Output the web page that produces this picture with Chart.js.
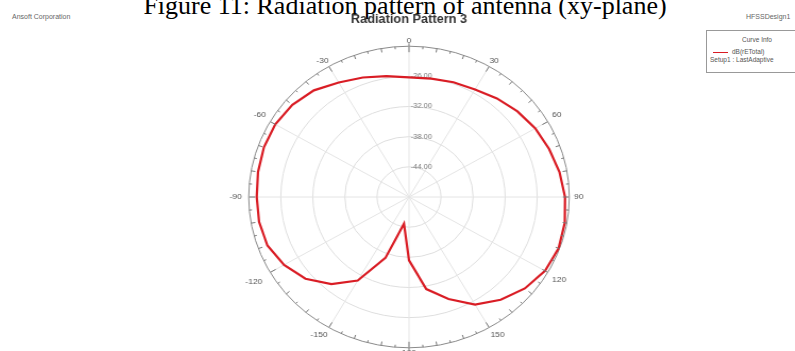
<!DOCTYPE html>
<html>
<head>
<meta charset="utf-8">
<script src="https://cdn.jsdelivr.net/npm/chart.js@4.4.1/dist/chart.umd.min.js"></script>
<style>
  html, body {
    margin: 0;
    padding: 0;
    width: 795px;
    height: 351px;
    overflow: hidden;
    background: #fff;
    position: relative;
    font-family: "Liberation Sans", Arial, sans-serif;
  }
  #caption {
    position: absolute;
    left: 0;
    top: -7px;
    width: 810px;
    text-align: center;
    font-family: "Liberation Serif", "Times New Roman", serif;
    font-size: 26px;
    line-height: 26px;
    color: #000;
    white-space: nowrap;
  }
  .corner {
    position: absolute;
    top: 13px;
    font-size: 7px;
    color: #666;
    white-space: nowrap;
  }
  #chartBox {
    position: absolute;
    left: 209px;
    top: 0;
    width: 400px;
    height: 361px;
    transform: scaleX(1.063);
    transform-origin: 200px 0;
  }
  #legend {
    position: absolute;
    left: 706px;
    top: 30px;
    width: 100px;
    height: 41px;
    border: 1px solid #999;
    font-size: 6.5px;
    color: #555;
    white-space: nowrap;
  }
  #legend .hd { position: absolute; left: 0; width: 100px; top: 5px; text-align: center; }
  #legend .row { position: absolute; left: 6px; top: 17px; }
  #legend .sw { display: inline-block; width: 15px; height: 0; border-top: 1.5px solid #d91c24; vertical-align: middle; margin-right: 4px; }
  #legend .row2 { position: absolute; left: 3px; top: 25px; }
</style>
</head>
<body>
<div id="caption">Figure 11: Radiation pattern of antenna (xy-plane)</div>
<div class="corner" style="left:12px;">Ansoft Corporation</div>
<div class="corner" style="left:746px;">HFSSDesign1</div>
<div id="chartBox"><canvas id="pattern"></canvas></div>
<div id="legend">
  <div class="hd">Curve Info</div>
  <div class="row"><span class="sw"></span><span id="lgName"></span></div>
  <div class="row2">Setup1 : LastAdaptive</div>
</div>
<script>
// angles (deg), clockwise from the top, HFSS style -180..180
const angles = [0, 10, 20, 30, 40, 50, 60, 70, 80, 90, 100, 110, 120, 130, 140, 150, 160, 170,
  180, -170, -160, -150, -140, -130, -120, -110, -100, -90, -80, -70, -60, -50, -40, -30, -20, -10];

// dB(rETotal)
const gainDb = [-26.2, -26.1, -25.7, -25.3, -24.4, -23.5, -22.7, -22.1, -21.4, -20.8, -20.4, -20.2,
  -20.6, -21.7, -23.3, -25.3, -28.4, -31.4, -37.4, -44.6, -37.1, -30.8, -27.4, -24.7, -23.0, -21.8,
  -21.5, -21.5, -21.3, -21.1, -21.1, -21.5, -22.3, -23.7, -24.7, -25.6];

const radialMin = -50;
const radialMax = -20;
const radialStep = 6;

const seriesName = 'dB(rETotal)';
document.getElementById('lgName').textContent = seriesName;

// gap between rim and angle label
const labelGap = { '0': -5, '30': -5, '60': -1, '90': -1, '120': -1, '150': -3, '180': -5,
  '-150': -3, '-120': 3, '-90': 1, '-60': -1, '-30': -5 };

// tick marks round the outer circle
const rimTicks = {
  id: 'rimTicks',
  afterDraw(chart) {
    const s = chart.scales.r;
    const ctx = chart.ctx;
    const R = s.drawingArea;
    ctx.save();
    ctx.strokeStyle = '#777';
    ctx.lineWidth = 1;
    for (let a = 0; a < 360; a += 5) {
      let inner = a % 10 === 0 ? 4 : 2.5;
      let outer = 0;
      if (a % 30 === 0) inner = 6;
      if (a === 0 || a === 180) outer = 3;
      const t = (a - 90) * Math.PI / 180;
      ctx.beginPath();
      ctx.moveTo(s.xCenter + Math.cos(t) * (R + outer), s.yCenter + Math.sin(t) * (R + outer));
      ctx.lineTo(s.xCenter + Math.cos(t) * (R - inner), s.yCenter + Math.sin(t) * (R - inner));
      ctx.stroke();
    }
    ctx.restore();
  }
};

new Chart(document.getElementById('pattern'), {
  type: 'radar',
  data: {
    labels: angles.map(a => String(a)),
    datasets: [{
      label: seriesName,
      data: gainDb,
      borderColor: '#d91c24',
      borderWidth: 2.2,
      pointRadius: 0,
      fill: false,
      tension: 0
    }]
  },
  options: {
    responsive: true,
    maintainAspectRatio: false,
    animation: false,
    layout: { padding: 0 },
    plugins: {
      legend: { display: false },
      tooltip: { enabled: false },
      title: {
        display: true,
        text: 'Radiation Pattern 3',
        color: '#333',
        font: { family: 'Liberation Sans', size: 12, weight: 'bold' },
        padding: { top: 12, bottom: 7 }
      }
    },
    scales: {
      r: {
        min: radialMin,
        max: radialMax,
        startAngle: 0,
        ticks: {
          stepSize: radialStep,
          showLabelBackdrop: false,
          color: '#777',
          font: { family: 'Liberation Sans', size: 7 },
          callback: v => (v === radialMax || v === radialMin) ? '' : '            ' + v.toFixed(2)
        },
        grid: {
          circular: true,
          color: ctx => ctx.tick && ctx.tick.value === radialMax ? '#8a8a8a' : '#dedede',
          lineWidth: 1
        },
        angleLines: {
          color: ctx => angles[ctx.index] % 30 === 0 ? '#e4e4e4' : 'rgba(0,0,0,0)',
          lineWidth: 1
        },
        pointLabels: {
          color: '#555',
          padding: ctx => {
            const a = angles[ctx.index];
            return a % 30 === 0 ? labelGap[String(a)] : 0;
          },
          font: { family: 'Liberation Sans', size: 8 },
          callback: (label, i) => angles[i] % 30 === 0 ? label : ''
        }
      }
    }
  },
  plugins: [rimTicks]
});
</script>
</body>
</html>
